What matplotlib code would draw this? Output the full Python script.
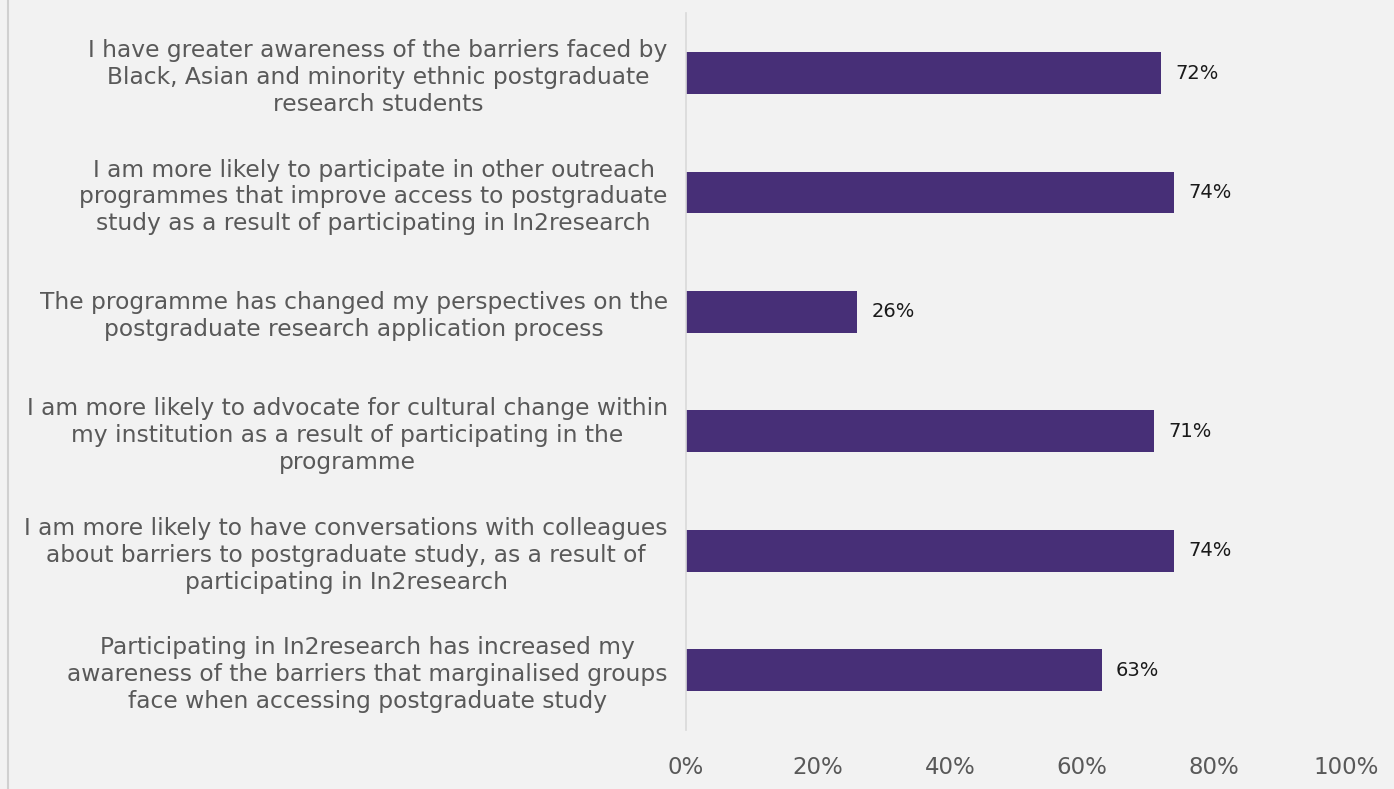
import matplotlib.pyplot as plt
from matplotlib.lines import Line2D

statements = [
    "I have greater awareness of the barriers faced by\nBlack, Asian and minority ethnic postgraduate\nresearch students",
    "I am more likely to participate in other outreach\nprogrammes that improve access to postgraduate\nstudy as a result of participating in In2research",
    "The programme has changed my perspectives on the\npostgraduate research application process",
    "I am more likely to advocate for cultural change within\nmy institution as a result of participating in the\nprogramme",
    "I am more likely to have conversations with colleagues\nabout barriers to postgraduate study, as a result of\nparticipating in In2research",
    "Participating in In2research has increased my\nawareness of the barriers that marginalised groups\nface when accessing postgraduate study",
]
agree = [0.72, 0.74, 0.26, 0.71, 0.74, 0.63]
xticks = [0, 0.2, 0.4, 0.6, 0.8, 1.0]
xtick_labels = ["0%", "20%", "40%", "60%", "80%", "100%"]

bg = "#f2f2f2"
plt.rcParams['font.family'] = ['DejaVu Sans']

fig = plt.figure(figsize=(13.94, 7.89), dpi=100, facecolor=bg)
ax = fig.add_axes([0.492, 0.075, 0.4735, 0.908], facecolor=bg)

pos = list(range(len(statements)))
ax.barh(pos, agree, height=0.35, color="#472f77")
ax.set_ylim(len(statements) - 0.5, -0.5)
ax.set_xlim(0, 1)

for p, v in zip(pos, agree):
    ax.text(v + 0.021, p, f"{round(v * 100)}%", va="center", ha="left",
            fontsize=14, color="#1a1a1a")

ax.set_yticks(pos)
ax.set_yticklabels(statements, fontsize=16.8, color="#595959",
                   multialignment="center", linespacing=1.22)
ax.set_xticks(xticks)
ax.set_xticklabels(xtick_labels, fontsize=16.5, color="#595959")
ax.tick_params(axis="y", length=0, pad=13)
ax.tick_params(axis="x", length=0, pad=19)

for side in ["top", "right", "bottom"]:
    ax.spines[side].set_visible(False)
ax.spines["left"].set_color("#d9d9d9")
ax.spines["left"].set_linewidth(1.2)

# thin frame edge down the left side
fig.add_artist(Line2D([7.5 / 1394, 7.5 / 1394], [0, 1], color="#d0d0d0",
                      lw=1.5, transform=fig.transFigure))

fig.savefig("out.png", dpi=100, facecolor=bg)
